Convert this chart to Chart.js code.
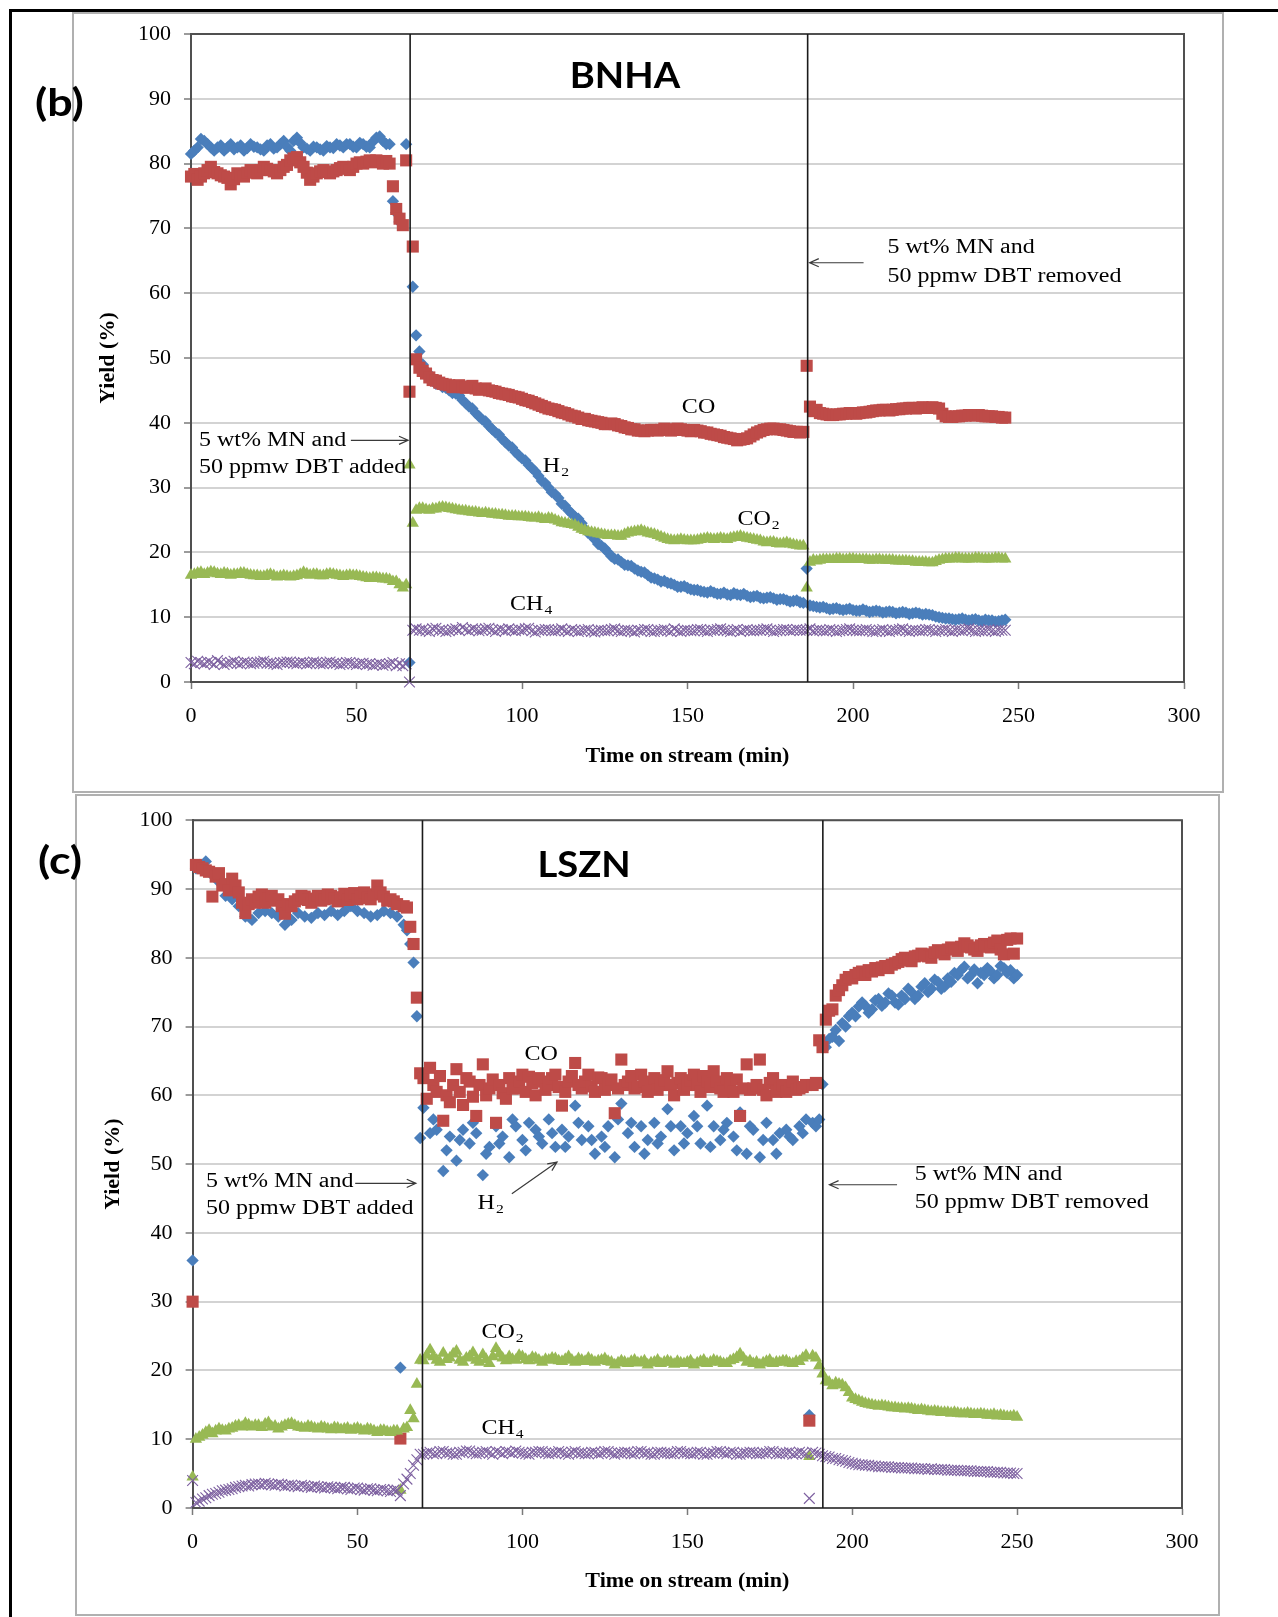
<!DOCTYPE html>
<html>
<head>
<meta charset="utf-8">
<script src="https://cdn.jsdelivr.net/npm/chart.js@4.4.0/dist/chart.umd.min.js"></script>
<style>
  html, body { margin: 0; padding: 0; background: #fff; }
  body { width: 1278px; height: 1617px; position: relative; overflow: hidden; }
  .frame { position: absolute; left: 9px; top: 9px; right: 0; bottom: 0; border-left: 3px solid #000; border-top: 3px solid #000; }
  canvas { position: absolute; left: 0; }
  #chartB { top: 0; }
  #chartC { top: 794px; }
</style>
</head>
<body>
<div class="frame"></div>
<canvas id="chartB" width="1278" height="794"></canvas>
<canvas id="chartC" width="1278" height="823"></canvas>
<script>
// ---- BNHA run: one sample per minute, yields (%) ----
const timesB = [
  0, 1, 2, 3, 4, 5, 6, 7, 8, 9, 10, 11, 12, 13, 14, 15, 16, 17, 18, 19,
  20, 21, 22, 23, 24, 25, 26, 27, 28, 29, 30, 31, 32, 33, 34, 35, 36, 37, 38, 39,
  40, 41, 42, 43, 44, 45, 46, 47, 48, 49, 50, 51, 52, 53, 54, 55, 56, 57, 58, 59,
  60, 61, 62, 63, 64, 65, 66, 67, 68, 69, 70, 71, 72, 73, 74, 75, 76, 77, 78, 79,
  80, 81, 82, 83, 84, 85, 86, 87, 88, 89, 90, 91, 92, 93, 94, 95, 96, 97, 98, 99,
  100, 101, 102, 103, 104, 105, 106, 107, 108, 109, 110, 111, 112, 113, 114, 115, 116, 117, 118, 119,
  120, 121, 122, 123, 124, 125, 126, 127, 128, 129, 130, 131, 132, 133, 134, 135, 136, 137, 138, 139,
  140, 141, 142, 143, 144, 145, 146, 147, 148, 149, 150, 151, 152, 153, 154, 155, 156, 157, 158, 159,
  160, 161, 162, 163, 164, 165, 166, 167, 168, 169, 170, 171, 172, 173, 174, 175, 176, 177, 178, 179,
  180, 181, 182, 183, 184, 185, 186, 187, 188, 189, 190, 191, 192, 193, 194, 195, 196, 197, 198, 199,
  200, 201, 202, 203, 204, 205, 206, 207, 208, 209, 210, 211, 212, 213, 214, 215, 216, 217, 218, 219,
  220, 221, 222, 223, 224, 225, 226, 227, 228, 229, 230, 231, 232, 233, 234, 235, 236, 237, 238, 239,
  240, 241, 242, 243, 244, 245, 246
];
const h2B = [
  81.5, 82, 82.5, 83.8, 83.5, 83, 82.5, 82, 82.5, 82.8, 82, 82.5, 83, 82.2, 82.5, 82.8, 82, 82.4, 83, 82.6,
  82.5, 82.2, 82, 82.8, 83, 82.3, 82.5, 83, 83.5, 82.6, 82, 83.5, 84, 83.2, 82.5, 82.3, 82, 82.6, 82.5, 82.2,
  82, 82.7, 82.5, 82.4, 83, 82.8, 82.5, 83, 83, 82.6, 82.5, 83.2, 83, 82.6, 82.5, 83.4, 84, 84.2, 83.5, 83,
  83, 74.2, 72.4, 71, null, 83, 3, 61, 53.5, 51, 49, 48, 47.5, 46.5, 46, 46, 45.5, 45.4, 45, 44.6,
  44.5, 44.2, 43.5, 43, 42.5, 42.2, 41.5, 41, 40.5, 40.2, 39.5, 39, 38.5, 38.2, 37.5, 37, 36.5, 36.2, 35.5, 35,
  34.5, 34.2, 33.5, 33, 32.5, 31.8, 31, 30.7, 30, 29.3, 29, 28.4, 27.5, 27.2, 26.5, 26, 25.5, 25.2, 24.5, 23.6,
  23, 22.7, 22, 21.3, 21, 20.6, 20, 19.4, 19, 18.9, 18.5, 18.1, 18, 17.9, 17.5, 17.2, 17, 16.9, 16.5, 16.1,
  16, 15.8, 15.5, 15.6, 15.3, 15.2, 15, 14.7, 14.7, 14.8, 14.5, 14.3, 14.2, 14.2, 14, 13.9, 13.8, 14, 13.8, 13.6,
  13.6, 13.8, 13.5, 13.4, 13.7, 13.5, 13.4, 13.6, 13.3, 13.1, 13.2, 13.3, 13, 12.9, 13, 13.1, 12.9, 12.7, 12.8, 12.8,
  12.6, 12.4, 12.5, 12.6, 12.3, 12.2, 17.5, 11.8, 11.7, 11.6, 11.5, 11.6, 11.4, 11.2, 11.3, 11.4, 11.2, 11.1, 11.2, 11.3,
  11.1, 11, 11, 11.2, 11, 10.8, 10.9, 11, 10.9, 10.7, 10.8, 10.9, 10.8, 10.6, 10.7, 10.8, 10.7, 10.5, 10.6, 10.7,
  10.6, 10.4, 10.5, 10.4, 10.3, 10.1, 10, 9.9, 9.8, 9.8, 9.7, 9.6, 9.7, 9.8, 9.6, 9.5, 9.6, 9.7, 9.5, 9.4,
  9.6, 9.5, 9.5, 9.3, 9.4, 9.5, 9.6
];
const coB = [
  78, 78.4, 77.5, 78, 78.5, 79, 79.5, 78.7, 78.5, 78.2, 78, 77.8, 76.8, 77.6, 78.5, 78.2, 78, 78.6, 79, 78.7,
  78.5, 79, 79.5, 79.2, 79, 78.8, 78.5, 79, 79.5, 79.8, 80.5, 80.8, 81, 80.2, 79.5, 78.6, 77.5, 78, 78.5, 78.8,
  79, 78.7, 78.5, 78.8, 79, 79.3, 79.5, 79.2, 79, 79.5, 80, 80.2, 80, 80.3, 80.5, 80.2, 80.5, 80.3, 80, 80.4,
  80, 76.5, 73, 71.5, 70.5, 80.5, 44.8, 67.2, 49.8, 48.5, 48, 47.6, 47, 46.6, 46.5, 46.2, 46, 45.9, 45.8, 45.5,
  45.6, 45.8, 45.5, 45.4, 45.6, 45.7, 45.3, 45.1, 45.2, 45.3, 45, 44.9, 44.8, 44.6, 44.5, 44.4, 44.3, 44.1, 44, 43.9,
  43.7, 43.5, 43.4, 43.2, 43, 42.8, 42.6, 42.4, 42.2, 42.1, 42, 41.8, 41.6, 41.5, 41.3, 41.1, 41, 40.8, 40.6, 40.6,
  40.4, 40.3, 40.2, 40.1, 40, 39.8, 39.8, 39.9, 39.8, 39.6, 39.5, 39.3, 39.2, 39, 39, 38.8, 38.8, 38.7, 38.8, 38.9,
  38.9, 38.8, 38.9, 39.1, 39, 38.8, 38.9, 39.1, 39, 38.9, 38.8, 38.7, 38.9, 38.8, 38.7, 38.5, 38.5, 38.3, 38.2, 38.1,
  38, 37.8, 37.7, 37.6, 37.5, 37.3, 37.4, 37.5, 37.6, 37.9, 38.2, 38.5, 38.7, 38.9, 39, 39.1, 39.1, 39, 39, 38.9,
  38.8, 38.7, 38.6, 38.6, 38.5, 38.6, 48.8, 42.5, 41.8, 42, 41.5, 41.4, 41.3, 41.2, 41.2, 41.3, 41.3, 41.4, 41.4, 41.5,
  41.5, 41.4, 41.5, 41.6, 41.6, 41.7, 41.8, 41.9, 41.9, 42, 42, 41.9, 42, 42.1, 42.1, 42.2, 42.2, 42.3, 42.3, 42.2,
  42.3, 42.4, 42.3, 42.3, 42.4, 42.3, 42.2, 41.4, 41, 40.9, 40.9, 41, 41, 41.1, 41.1, 41.2, 41.2, 41.1, 41.2, 41.1,
  41, 41, 41, 40.9, 40.9, 40.8, 40.8
];
const co2B = [
  16.5, 16.6, 16.8, 16.9, 16.6, 16.8, 17, 16.9, 16.7, 16.6, 16.8, 16.7, 16.5, 16.6, 16.6, 16.8, 16.8, 16.6, 16.5, 16.4,
  16.4, 16.3, 16.3, 16.5, 16.6, 16.4, 16.2, 16.3, 16.4, 16.3, 16.2, 16.3, 16.4, 16.6, 16.9, 16.7, 16.5, 16.6, 16.6, 16.4,
  16.4, 16.6, 16.7, 16.6, 16.5, 16.4, 16.3, 16.4, 16.5, 16.4, 16.4, 16.3, 16.2, 16.1, 16, 16.1, 16.1, 16, 15.9, 15.9,
  15.8, 15.5, 15.5, 15, 14.5, 15, 33.5, 24.5, 26.5, 26.8, 26.8, 26.6, 26.5, 26.7, 26.7, 26.9, 27, 26.9, 26.8, 26.7,
  26.6, 26.5, 26.4, 26.4, 26.3, 26.2, 26.2, 26.1, 26, 26.1, 26, 25.9, 25.9, 25.8, 25.8, 25.7, 25.6, 25.6, 25.6, 25.5,
  25.5, 25.5, 25.4, 25.3, 25.3, 25.4, 25.2, 25.1, 25.3, 25.2, 25, 24.8, 24.6, 24.5, 24.4, 24.3, 24.2, 23.9, 23.6, 23.4,
  23.2, 23.1, 23, 22.9, 22.8, 22.7, 22.6, 22.6, 22.6, 22.5, 22.5, 22.8, 23, 23.1, 23.2, 23.3, 23.4, 23.2, 23, 22.9,
  22.8, 22.6, 22.4, 22.2, 22, 21.9, 21.8, 21.9, 22, 21.9, 21.8, 21.8, 21.8, 21.9, 22, 22.1, 22.2, 22.1, 22, 22.1,
  22.2, 22.1, 22, 22.2, 22.3, 22.4, 22.5, 22.3, 22.2, 22.1, 22, 21.9, 21.8, 21.6, 21.5, 21.6, 21.6, 21.4, 21.3, 21.4,
  21.5, 21.3, 21.2, 21.1, 21, 21, 14.5, 18.5, 18.8, 18.7, 18.8, 18.9, 18.9, 18.9, 18.9, 19, 19, 18.9, 18.9, 19,
  19, 18.9, 18.9, 18.9, 18.9, 18.8, 18.8, 18.9, 18.9, 18.8, 18.8, 18.8, 18.8, 18.7, 18.7, 18.7, 18.7, 18.6, 18.6, 18.5,
  18.5, 18.5, 18.5, 18.4, 18.4, 18.6, 18.8, 18.9, 19, 19, 19, 19.1, 19.1, 19, 19, 19, 19, 19.1, 19.1, 19,
  19, 19, 19, 19.1, 19.1, 19, 19
];
const ch4B = [
  3, 2.8, 3.2, 3, 2.8, 3.1, 3, 2.7, 3.3, 3, 2.7, 2.9, 3, 3.2, 2.9, 2.8, 3.1, 3, 2.8, 2.9,
  3, 3.1, 3.2, 2.9, 2.9, 2.8, 2.7, 3, 3, 3.1, 3.1, 2.9, 2.8, 3, 3, 2.8, 2.9, 3.1, 3, 2.8,
  2.8, 3, 3.1, 2.9, 2.9, 2.7, 2.8, 3, 3, 2.8, 2.7, 2.9, 2.9, 2.7, 2.8, 2.6, 2.7, 2.8, 2.6, 2.7,
  2.8, 3, 2.5, 2.8, 2.5, 2.8, 0, 8, 8.2, 8, 8.1, 7.9, 7.8, 8.2, 8.3, 8, 8, 7.8, 7.9, 8.1,
  8.2, 8, 8.4, 8.1, 7.9, 8.2, 8.1, 7.9, 8, 8.2, 8.3, 8, 7.8, 8.1, 8.1, 7.9, 8.2, 8, 7.9, 8.1,
  8, 8.2, 8.3, 7.9, 7.7, 8, 8, 8.1, 8.1, 7.9, 7.9, 8, 8.2, 7.9, 7.8, 8.1, 8, 7.8, 7.9, 8,
  8.1, 7.8, 7.7, 8, 8, 7.9, 7.9, 8.1, 8.2, 7.9, 7.8, 8, 8, 7.9, 7.7, 8, 7.9, 8.1, 8.1, 7.8,
  7.8, 8, 8, 8.1, 7.9, 7.8, 8.2, 7.9, 7.8, 8, 8, 7.9, 7.9, 8.1, 8.1, 7.9, 7.8, 8, 8, 8.1,
  8.2, 8, 7.9, 7.8, 8, 8.1, 7.8, 8, 8.1, 7.9, 7.9, 8, 8, 8.1, 8.2, 8, 7.8, 7.9, 8, 8.1,
  8.1, 7.9, 8, 8.1, 8, 8, 8, 8.2, 7.9, 8, 8, 7.9, 7.9, 8.1, 8, 7.8, 7.9, 8, 8.1, 8.2,
  8, 7.9, 7.9, 8, 8.1, 8, 7.8, 7.8, 8, 8.1, 7.9, 7.8, 8, 8, 8.1, 8.2, 7.9, 7.8, 8, 8,
  7.9, 7.9, 8.1, 8.1, 7.9, 7.8, 8, 8, 8.1, 7.9, 7.8, 8, 8, 7.9, 8.1, 8.2, 8, 7.8, 7.9, 7.9,
  8, 8.1, 7.9, 7.8, 8, 8, 8
];
// feed switched at these times (min)
const switchTimesB = [66.2, 186.3];

// ---- LSZN run: one sample per minute (H2 / CO not logged every minute) ----
const timesC = [
  0, 1, 2, 3, 4, 5, 6, 7, 8, 9, 10, 11, 12, 13, 14, 15, 16, 17, 18, 19,
  20, 21, 22, 23, 24, 25, 26, 27, 28, 29, 30, 31, 32, 33, 34, 35, 36, 37, 38, 39,
  40, 41, 42, 43, 44, 45, 46, 47, 48, 49, 50, 51, 52, 53, 54, 55, 56, 57, 58, 59,
  60, 61, 62, 63, 64, 65, 66, 67, 68, 69, 70, 71, 72, 73, 74, 75, 76, 77, 78, 79,
  80, 81, 82, 83, 84, 85, 86, 87, 88, 89, 90, 91, 92, 93, 94, 95, 96, 97, 98, 99,
  100, 101, 102, 103, 104, 105, 106, 107, 108, 109, 110, 111, 112, 113, 114, 115, 116, 117, 118, 119,
  120, 121, 122, 123, 124, 125, 126, 127, 128, 129, 130, 131, 132, 133, 134, 135, 136, 137, 138, 139,
  140, 141, 142, 143, 144, 145, 146, 147, 148, 149, 150, 151, 152, 153, 154, 155, 156, 157, 158, 159,
  160, 161, 162, 163, 164, 165, 166, 167, 168, 169, 170, 171, 172, 173, 174, 175, 176, 177, 178, 179,
  180, 181, 182, 183, 184, 185, 186, 187, 188, 189, 190, 191, 192, 193, 194, 195, 196, 197, 198, 199,
  200, 201, 202, 203, 204, 205, 206, 207, 208, 209, 210, 211, 212, 213, 214, 215, 216, 217, 218, 219,
  220, 221, 222, 223, 224, 225, 226, 227, 228, 229, 230, 231, 232, 233, 234, 235, 236, 237, 238, 239,
  240, 241, 242, 243, 244, 245, 246, 247, 248, 249, 250
];
const h2C = [
  36, 93, 93.5, null, 94, null, 92, null, 91, null,
  89, null, 88.5, null, 87.5, null, 86, null, 85.5, null,
  86.5, null, 86.8, null, 86.5, null, 86, null, 84.8, null,
  85.5, null, 86.5, null, 86, null, 85.8, null, 86.5, null,
  86.2, null, 86.8, null, 86.2, null, 86.8, null, 87.5, null,
  86.8, null, 86.5, null, 86, null, 86.2, null, 86.8, null,
  86.5, null, 86, 20.4, 84.8, 84, 82, 79.3, 71.5, 53.8,
  58.2, null, 54.5, 56.5, 55, null, 49, 52, 54, null,
  50.5, 53.5, 55, null, 53, 56, 54.5, null, 48.4, 51.5,
  52.5, null, 55.5, 53, 54, null, 51, 56.5, 55.5, null,
  53.5, 52, 56, null, 55, 54, 53, null, 56.5, 54.5,
  52.5, null, 55, 52.5, 54, null, 58.5, 56, 53.5, null,
  55.5, 53.5, 51.5, null, 54, 52.5, 55.5, null, 51, 56.5,
  58.8, null, 54.5, 56, 52.5, null, 55.5, 51.5, 53.5, null,
  56, 53, 54, null, 58, 55.5, 52, null, 55.5, 53,
  54.5, null, 57, 55.5, 53, null, 58.5, 52.5, 55.5, null,
  53.5, 55, 56, null, 54, 52, 57.5, null, 51.5, 55.5,
  55, null, 51, 53.5, 56, null, 53.5, 51.5, 54.5, null,
  55, 54, 53.5, null, 55.5, 54.5, 56.5, 13.5, 56, 55.5,
  56.5, 61.6, 67, 68.2, 68.5, 69.5, 67.9, 70.5, 70, 71.5,
  72, 71.5, 72.9, 73.5, 73, 72, 72.5, 73.8, 74, 73,
  73.5, 74.8, 74.5, 73.5, 73.2, 74.5, 74, 75.5, 75, 74,
  74.5, 75.8, 76.3, 75, 75.5, 76.8, 76.5, 75.5, 75.8, 77,
  76.5, 77.8, 77.5, 78.2, 78.7, 77, 77.5, 78.3, 76.3, 77.8,
  77.5, 78.5, 78, 77, 77.5, 78.8, 78.5, 77.8, 78.2, 77,
  77.5
];
const coC = [
  30, 93.5, 93.2, 93, 92.7, 92.5, 88.9, 91.8, 92.3, 90.5,
  90.7, 89.8, 91.5, 90.5, 89.5, 88, 86.5, 87.8, 88.5, 88,
  88.9, 89.2, 88, 88.6, 89, 88.3, 88.5, 87.5, 86.4, 87.8,
  87.5, 88.2, 88.5, 89, 88.9, 88.4, 88, 88.6, 89, 88.3,
  88.5, 89.2, 89, 88.6, 88.2, 88.8, 89.3, 88.4, 89, 89.4,
  88.5, 88.9, 89.5, 88.7, 88.5, 89.2, 90.5, 89.5, 88.9, 88.3,
  88.5, 88.2, 87.8, 10.1, 87.5, 87.3, 84.5, 82, 74.2, 63.2,
  62.5, 59.5, 64, 61.5, 60.5, 62.8, 56.3, 60, 59, 61.5,
  63.8, 60.5, 58.6, 62.5, 62, 59.8, 57, 61.5, 64.5, 60,
  61, 62.3, 56, 61.5, 60.3, 59.5, 62.5, 61, 61, 62,
  63, 60.5, 62.7, 61.8, 60, 62.5, 62, 60.8, 61.5, 62.5,
  63, 61.2, 58.5, 60.5, 62, 62.8, 64.7, 61.5, 61, 62,
  63, 61.3, 60.5, 62.6, 62.5, 60.8, 61.5, 62.3, 57.4, 61,
  65.2, 61.5, 62, 62.8, 61, 61.2, 63, 62, 60.5, 61.8,
  62.5, 60.8, 61.5, 62.2, 63.5, 61.5, 60, 61.8, 62.5, 60.8,
  61.5, 62.2, 63, 61.5, 60.5, 62.8, 62, 61.2, 63.5, 62,
  61, 60.5, 62.5, 61.8, 60.5, 62.3, 57, 61, 64.5, 60.8,
  61, 61.5, 65.2, 60.8, 60, 61.8, 62.5, 60.5, 61, 61.5,
  60.5, 61, 62, 60.8, 61, 61.2, 61.5, 12.7, 61.5, 61.8,
  68, 67, 71, 72.3, 72.5, 74.5, 75.3, 76, 76.8, 77.2,
  77, 77.5, 77.8, 78, 77.5, 78.2, 78, 78.5, 78.2, 78.6,
  78.8, 78.5, 79, 79.2, 79.4, 79.8, 80, 79.6, 79.5, 80.2,
  80.3, 80.6, 80.5, 80.2, 80, 80.8, 81.1, 80.8, 80.5, 81.2,
  81.5, 81.3, 81, 81.6, 82.1, 81.8, 81.5, 81.2, 81, 81.8,
  82, 81.6, 81.5, 82.2, 82.5, 81.2, 80.5, 82.6, 82.8, 80.6,
  82.8
];
const co2C = [
  4.5, 10, 10.3, 10.6, 11, 11.3, 10.8, 11.2, 11.5, 11.3,
  11.2, 11.5, 11.6, 11.9, 12, 11.8, 12.3, 12.1, 11.8, 12,
  12, 11.7, 12.2, 12.4, 11.8, 11.9, 11.5, 11.8, 12, 12.2,
  12.3, 12, 11.8, 11.7, 11.6, 11.9, 11.8, 11.6, 11.5, 11.8,
  11.7, 11.5, 11.4, 11.7, 11.6, 11.4, 11.5, 11.6, 11.3, 11.5,
  11.6, 11.4, 11.2, 11.5, 11.4, 11.2, 11, 11.3, 11.3, 11.1,
  11, 11.2, 11.2, 2.6, 11.5, 11.7, 14.2, 13, 18, 21.5,
  21.4, 22.2, 23, 22, 21.5, 21.2, 22.5, 21.6, 21.8, 22.4,
  22.8, 21.5, 21.2, 21.8, 22, 22.6, 21.5, 21.2, 22.3, 21.6,
  21, 22, 23.2, 22.4, 21.8, 21.4, 22, 21.6, 21.5, 22.2,
  22, 21.6, 21.4, 21.9, 21.8, 21.5, 21.2, 21.6, 21.5, 21.8,
  21.7, 21.4, 21.3, 21.6, 22, 21.5, 21.2, 21.7, 21.5, 21.3,
  21.8, 21.5, 21.2, 21.4, 21.5, 21.7, 21.3, 21.2, 20.8, 21.1,
  21.4, 21.2, 21, 21.3, 21.5, 21.1, 21.2, 21.4, 20.8, 21.1,
  21.2, 21.5, 21, 21.2, 21.4, 21.2, 20.9, 21.3, 21.1, 21,
  21.2, 21.4, 20.8, 21.1, 21.3, 21.5, 21, 21.2, 21.5, 21.3,
  21.2, 21, 21, 21.4, 21.6, 21.9, 22.4, 21.8, 21.2, 21.4,
  21, 21.2, 20.8, 21.1, 21.3, 21.5, 21, 21.2, 21.2, 21.4,
  21.4, 21.1, 21, 21.3, 21.3, 21.8, 22.2, 7.5, 22.1, 21.8,
  20.7, 19.5, 18.5, 18.3, 17.8, 18.2, 18, 17.9, 17.5, 16.8,
  16, 15.8, 15.6, 15.4, 15.2, 15.1, 15, 14.9, 14.8, 14.9,
  14.8, 14.7, 14.6, 14.6, 14.5, 14.5, 14.4, 14.5, 14.4, 14.3,
  14.2, 14.3, 14.2, 14.1, 14, 14.1, 14, 13.9, 13.9, 13.9,
  13.8, 13.9, 13.8, 13.7, 13.7, 13.8, 13.7, 13.6, 13.6, 13.7,
  13.6, 13.5, 13.5, 13.6, 13.4, 13.5, 13.4, 13.3, 13.3, 13.4,
  13.2
];
const ch4C = [
  4, 0.8, 1, 1.3, 1.5, 1.8, 2, 2.1, 2.3, 2.5,
  2.6, 2.7, 2.8, 3, 3.1, 3.2, 3.3, 3.2, 3.4, 3.5,
  3.5, 3.4, 3.6, 3.5, 3.4, 3.3, 3.5, 3.4, 3.2, 3.3,
  3.3, 3.2, 3.1, 3.3, 3.2, 3.1, 3, 3.2, 3.1, 3,
  2.9, 3.1, 3, 2.9, 2.8, 3, 3, 2.8, 2.7, 2.9,
  2.9, 2.7, 2.6, 2.8, 2.8, 2.6, 2.5, 2.7, 2.7, 2.5,
  2.4, 2.6, 2.6, 1.8, 3.5, 4.2, 5, 6.2, 7, 7.8,
  7.8, 8, 8.1, 7.9, 7.9, 8.2, 8.2, 8, 8, 7.8,
  7.8, 8.1, 8.1, 8.3, 8.3, 8, 7.9, 8, 8.1, 8.2,
  8, 7.8, 8.2, 8.1, 7.9, 8.2, 8.1, 8, 8.3, 8.1,
  8, 7.9, 7.8, 8.1, 8.1, 8.2, 8.2, 8, 7.9, 8,
  8, 8.2, 8.1, 7.9, 7.8, 8.1, 8.2, 8, 8, 7.9,
  7.9, 8.1, 8.1, 7.9, 8, 8.2, 8.2, 8, 7.8, 8,
  8, 8.1, 8.1, 7.9, 7.9, 8.2, 8.2, 8, 8, 7.8,
  7.8, 8.1, 8.1, 8, 8, 7.9, 7.9, 8.2, 8.2, 8,
  8, 7.9, 7.9, 8.1, 8.1, 7.8, 7.8, 8, 8, 8.2,
  8.2, 8, 7.9, 8.1, 8.1, 7.8, 7.8, 8, 8, 8.1,
  8.1, 7.9, 7.9, 8, 8, 8.2, 8.2, 7.9, 7.9, 8,
  8, 8.1, 7.8, 7.9, 8.1, 8, 7.9, 1.4, 8.1, 8,
  7.8, 7.6, 7.5, 7.4, 7.2, 7.2, 7, 6.9, 6.8, 6.6,
  6.5, 6.4, 6.3, 6.3, 6.2, 6.2, 6.1, 6.1, 6, 6,
  6, 6, 5.9, 5.9, 5.9, 5.8, 5.8, 5.8, 5.8, 5.7,
  5.7, 5.7, 5.7, 5.6, 5.7, 5.6, 5.6, 5.6, 5.6, 5.5,
  5.5, 5.5, 5.5, 5.4, 5.4, 5.4, 5.4, 5.3, 5.3, 5.3,
  5.3, 5.3, 5.2, 5.2, 5.2, 5.2, 5.1, 5.1, 5.1, 5,
  5
];
const switchTimesC = [69.7, 191.1];

const xTicks = [0, 50, 100, 150, 200, 250, 300];
const yTicks = [0, 10, 20, 30, 40, 50, 60, 70, 80, 90, 100];

// ---- styling ----
const BLUE = '#4A7EBB', RED = '#BE4B48', GREEN = '#98B954', PURPLE = '#7D60A0';
const SERIF = '"Liberation Serif", "Times New Roman", serif';
const SANS = 'Lato, "Open Sans", sans-serif';

function points(times, values) {
  const out = [];
  times.forEach((t, i) => {
    if (values[i] !== null) out.push({ x: t, y: values[i] });
  });
  return out;
}

function stretchText(ctx, text, px, py, font, align, sx) {
  ctx.save();
  ctx.font = font;
  ctx.textBaseline = 'middle';
  ctx.textAlign = align;
  ctx.translate(px, py);
  ctx.scale(sx, 1);
  ctx.fillText(text, 0, 0);
  const w = ctx.measureText(text).width * sx;
  ctx.restore();
  return w;
}

function arrow(ctx, x0, y0, x1, y1) {
  const ang = Math.atan2(y1 - y0, x1 - x0);
  const head = 10;
  ctx.beginPath();
  ctx.moveTo(x0, y0);
  ctx.lineTo(x1, y1);
  ctx.moveTo(x1 - head * Math.cos(ang - 0.42), y1 - head * Math.sin(ang - 0.42));
  ctx.lineTo(x1, y1);
  ctx.lineTo(x1 - head * Math.cos(ang + 0.42), y1 - head * Math.sin(ang + 0.42));
  ctx.stroke();
}

// box around each panel, plot frame, notes, arrows, panel title and tag
const panelDecor = {
  id: 'panelDecor',
  beforeDraw(chart, args, o) {
    const ctx = chart.ctx;
    const [x0, y0, x1, y1] = o.box;
    ctx.save();
    ctx.strokeStyle = '#b0b0b0';
    ctx.lineWidth = 2;
    ctx.strokeRect(x0, y0, x1 - x0, y1 - y0);
    ctx.restore();
  },
  beforeDatasetsDraw(chart) {
    const { ctx, chartArea: a } = chart;
    ctx.save();
    ctx.strokeStyle = '#505050';
    ctx.lineWidth = 2;
    ctx.beginPath();
    ctx.moveTo(a.left, a.top);
    ctx.lineTo(a.right, a.top);
    ctx.lineTo(a.right, a.bottom);
    ctx.stroke();
    ctx.restore();
  },
  afterDatasetsDraw(chart, args, o) {
    const { ctx, scales: { x, y } } = chart;
    ctx.save();
    ctx.fillStyle = '#000';
    o.notes.forEach(n => {
      const px = x.getPixelForValue(n.x), py = y.getPixelForValue(n.y);
      const w = stretchText(ctx, n.text, px, py, '20px ' + SERIF, 'left', 1.2);
      if (n.sub) stretchText(ctx, n.sub, px + w + 1, py + 6, '13px ' + SERIF, 'left', 1.2);
    });
    ctx.strokeStyle = '#3a3a3a';
    ctx.lineWidth = 1.2;
    o.arrows.forEach(a => arrow(ctx,
      x.getPixelForValue(a.from[0]), y.getPixelForValue(a.from[1]),
      x.getPixelForValue(a.to[0]), y.getPixelForValue(a.to[1])));
    stretchText(ctx, o.title.text, x.getPixelForValue(o.title.x), y.getPixelForValue(o.title.y),
      'bold 36px ' + SANS, 'center', 1.06);
    stretchText(ctx, o.tag.text, o.tag.px, o.tag.py, 'bold 38px ' + SANS, 'left', 1.18);
    ctx.restore();
  }
};

function seriesSets(times, h2, co, co2, ch4, switches, size) {
  const sets = [
    { label: 'H2', data: points(times, h2), pointStyle: 'rectRot', pointRadius: 6.5 * size,
      backgroundColor: BLUE, borderColor: BLUE, borderWidth: 0, order: 4 },
    { label: 'CO', data: points(times, co), pointStyle: 'rect', pointRadius: 9 * size,
      backgroundColor: RED, borderColor: RED, borderWidth: 0, order: 3 },
    { label: 'CO2', data: points(times, co2), pointStyle: 'triangle', pointRadius: 7.5 * size,
      backgroundColor: GREEN, borderColor: GREEN, borderWidth: 0, order: 2 },
    { label: 'CH4', data: points(times, ch4), pointStyle: 'crossRot', pointRadius: 8 * size,
      backgroundColor: PURPLE, borderColor: PURPLE, borderWidth: 1.1, order: 1 }
  ];
  switches.forEach(t => sets.push({
    type: 'line', data: [{ x: t, y: 0 }, { x: t, y: 100 }],
    borderColor: '#1a1a1a', borderWidth: 1.6, pointRadius: 0, order: 0
  }));
  sets.forEach(s => { s.clip = false; });
  return sets;
}

function scales(yWidth, xHeight, yTitlePad, xTitlePad) {
  const tickFont = { family: SERIF, size: 22 };
  const titleFont = { family: SERIF, size: 22, weight: 'bold' };
  return {
    x: {
      type: 'linear', min: 0, max: 300,
      afterBuildTicks: s => { s.ticks = xTicks.map(v => ({ value: v })); },
      ticks: { font: tickFont, color: '#000', padding: 14.5, maxRotation: 0 },
      grid: { drawOnChartArea: false, drawTicks: true, tickLength: 7, tickColor: '#7a7a7a', tickWidth: 1.5 },
      border: { color: '#505050', width: 2 },
      title: { display: true, text: 'Time on stream (min)', font: titleFont, color: '#000',
        padding: { top: 0, bottom: xTitlePad } },
      afterFit: s => { s.height = xHeight; }
    },
    y: {
      type: 'linear', min: 0, max: 100,
      afterBuildTicks: s => { s.ticks = yTicks.map(v => ({ value: v })); },
      ticks: { font: tickFont, color: '#000', padding: 13 },
      grid: {
        color: c => (c.tick && c.tick.value === 0) ? 'rgba(0,0,0,0)' : '#d3d3d3',
        lineWidth: 2, tickLength: 7, tickColor: '#7a7a7a', tickWidth: 1.5
      },
      border: { color: '#505050', width: 2 },
      title: { display: true, text: 'Yield (%)', font: titleFont, color: '#000',
        padding: { top: yTitlePad, bottom: 0 } },
      afterFit: s => { s.width = yWidth; }
    }
  };
}

function build(id, datasets, padding, sc, decor) {
  return new Chart(document.getElementById(id), {
    type: 'scatter',
    data: { datasets },
    options: {
      responsive: false,
      animation: false,
      devicePixelRatio: 1,
      layout: { padding },
      scales: sc,
      plugins: { legend: { display: false }, tooltip: { enabled: false }, panelDecor: decor }
    },
    plugins: [panelDecor]
  });
}

build('chartB',
  seriesSets(timesB, h2B, coB, co2B, ch4B, switchTimesB, 0.95),
  { left: 71, right: 94, top: 34, bottom: 0 },
  scales(120, 112, 23.8, 24.8),
  {
    box: [73, 13, 1223, 792],
    tag: { text: '(b)', px: 35, py: 104 },
    title: { text: 'BNHA', x: 131.1, y: 93.4 },
    notes: [
      { x: 2.4, y: 37.3, text: '5 wt% MN and' },
      { x: 2.4, y: 33.0, text: '50 ppmw DBT added' },
      { x: 210.4, y: 67.0, text: '5 wt% MN and' },
      { x: 210.4, y: 62.5, text: '50 ppmw DBT removed' },
      { x: 148.3, y: 42.3, text: 'CO' },
      { x: 106.3, y: 33.2, text: 'H', sub: '2' },
      { x: 165.1, y: 25.0, text: 'CO', sub: '2' },
      { x: 96.4, y: 11.9, text: 'CH', sub: '4' }
    ],
    arrows: [
      { from: [48.3, 37.3], to: [65.6, 37.3] },
      { from: [203.2, 64.7], to: [186.9, 64.7] }
    ]
  });

build('chartC',
  seriesSets(timesC, h2C, coC, co2C, ch4C, switchTimesC, 0.95),
  { left: 72.6, right: 96, top: 22, bottom: 0 },
  scales(120, 109, 27.7, 22.8),
  {
    box: [76, 1, 1219, 821],
    tag: { text: '(c)', px: 38, py: 68 },
    title: { text: 'LSZN', x: 118.7, y: 93.4 },
    notes: [
      { x: 4.1, y: 47.4, text: '5 wt% MN and' },
      { x: 4.1, y: 43.5, text: '50 ppmw DBT added' },
      { x: 219, y: 48.4, text: '5 wt% MN and' },
      { x: 219, y: 44.4, text: '50 ppmw DBT removed' },
      { x: 100.6, y: 65.9, text: 'CO' },
      { x: 86.4, y: 44.3, text: 'H', sub: '2' },
      { x: 87.6, y: 25.5, text: 'CO', sub: '2' },
      { x: 87.6, y: 11.5, text: 'CH', sub: '4' }
    ],
    arrows: [
      { from: [49.3, 47.2], to: [67.7, 47.2] },
      { from: [213.6, 47.0], to: [193.1, 47.0] },
      { from: [96.8, 45.7], to: [110.5, 50.3] }
    ]
  });
</script>
</body>
</html>
